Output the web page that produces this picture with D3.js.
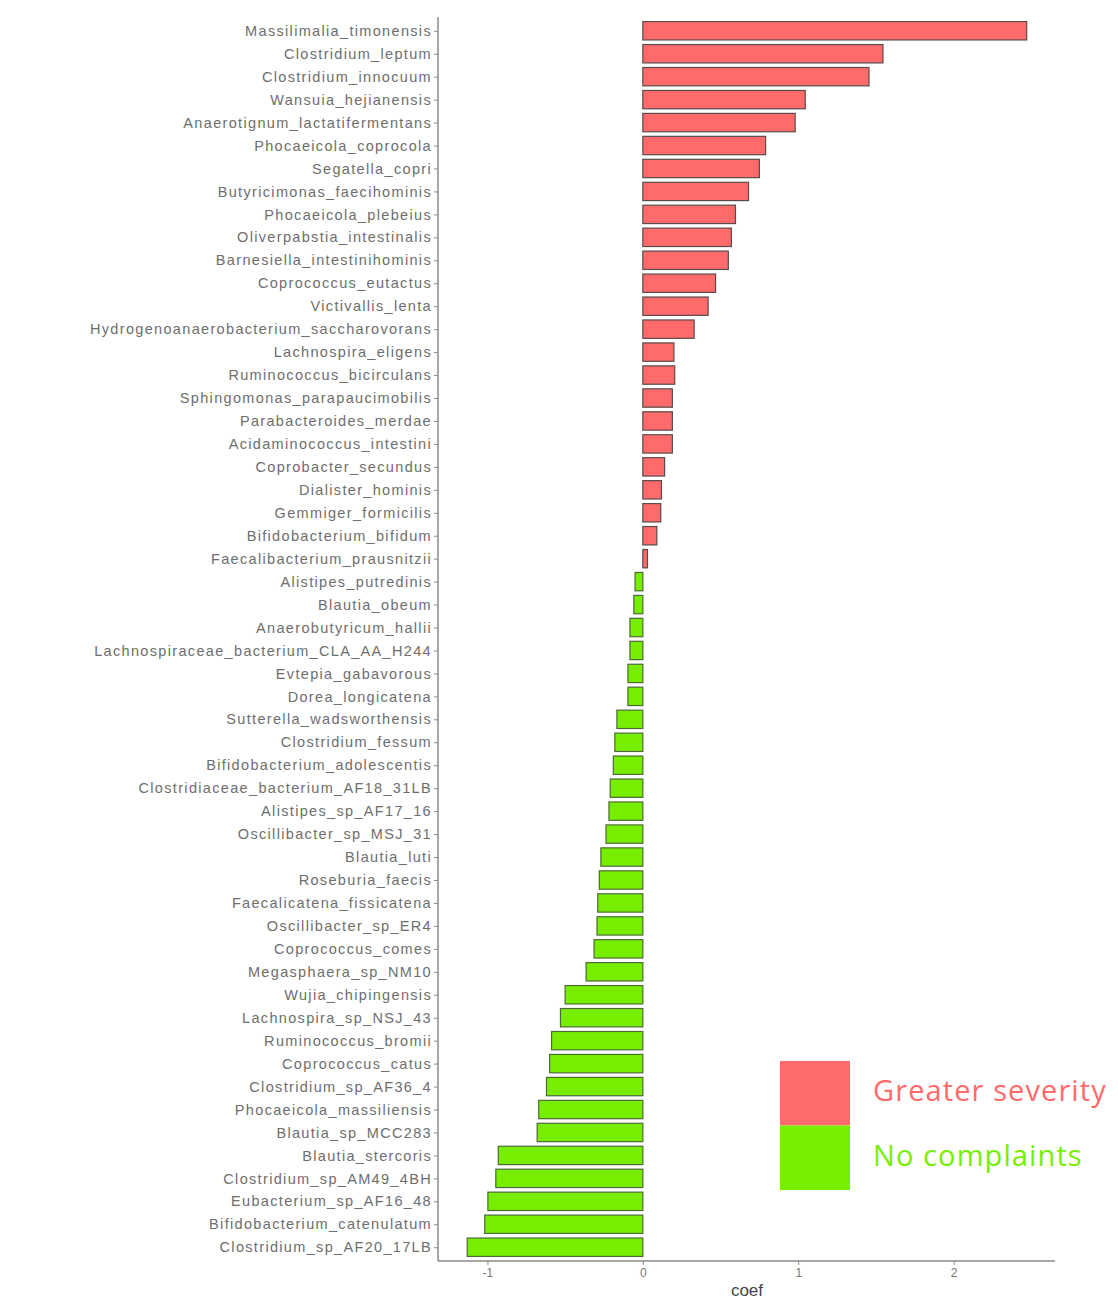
<!DOCTYPE html>
<html>
<head>
<meta charset="utf-8">
<script src="https://cdn.jsdelivr.net/npm/d3@7"></script>
<style>
  body { margin: 0; background: #fff; }
  svg { display: block; }
</style>
</head>
<body>
<div id="chart"></div>
<script>
// species names, top to bottom
const species = [
  "Massilimalia_timonensis", "Clostridium_leptum", "Clostridium_innocuum",
  "Wansuia_hejianensis", "Anaerotignum_lactatifermentans", "Phocaeicola_coprocola",
  "Segatella_copri", "Butyricimonas_faecihominis", "Phocaeicola_plebeius",
  "Oliverpabstia_intestinalis", "Barnesiella_intestinihominis", "Coprococcus_eutactus",
  "Victivallis_lenta", "Hydrogenoanaerobacterium_saccharovorans", "Lachnospira_eligens",
  "Ruminococcus_bicirculans", "Sphingomonas_parapaucimobilis", "Parabacteroides_merdae",
  "Acidaminococcus_intestini", "Coprobacter_secundus", "Dialister_hominis",
  "Gemmiger_formicilis", "Bifidobacterium_bifidum", "Faecalibacterium_prausnitzii",
  "Alistipes_putredinis", "Blautia_obeum", "Anaerobutyricum_hallii",
  "Lachnospiraceae_bacterium_CLA_AA_H244", "Evtepia_gabavorous", "Dorea_longicatena",
  "Sutterella_wadsworthensis", "Clostridium_fessum", "Bifidobacterium_adolescentis",
  "Clostridiaceae_bacterium_AF18_31LB", "Alistipes_sp_AF17_16", "Oscillibacter_sp_MSJ_31",
  "Blautia_luti", "Roseburia_faecis", "Faecalicatena_fissicatena",
  "Oscillibacter_sp_ER4", "Coprococcus_comes", "Megasphaera_sp_NM10",
  "Wujia_chipingensis", "Lachnospira_sp_NSJ_43", "Ruminococcus_bromii",
  "Coprococcus_catus", "Clostridium_sp_AF36_4", "Phocaeicola_massiliensis",
  "Blautia_sp_MCC283", "Blautia_stercoris", "Clostridium_sp_AM49_4BH",
  "Eubacterium_sp_AF16_48", "Bifidobacterium_catenulatum", "Clostridium_sp_AF20_17LB"
];

// coefficient per species (same order)
const coefs = [
  2.47, 1.545, 1.455, 1.045, 0.98, 0.79,
  0.75, 0.68, 0.596, 0.57, 0.55, 0.468,
  0.42, 0.33, 0.20, 0.205, 0.19, 0.19,
  0.19, 0.14, 0.12, 0.115, 0.09, 0.03,
  -0.05, -0.058, -0.083, -0.083, -0.096, -0.096,
  -0.167, -0.18, -0.19, -0.21, -0.218, -0.237,
  -0.27, -0.28, -0.29, -0.295, -0.314, -0.365,
  -0.50, -0.53, -0.587, -0.60, -0.62, -0.67,
  -0.68, -0.93, -0.946, -0.997, -1.017, -1.13
];

const xTicks = [-1, 0, 1, 2];
const groups = ["Greater severity", "No complaints"];
const groupColors = ["#ff6b6b", "#77ee00"];

const data = species.map((s, i) => ({ name: s, coef: coefs[i] }));

const width = 1118, height = 1304;
const plotLeft = 438, plotRight = 1055, plotTop = 17, plotBottom = 1261;

const svg = d3.select("#chart").append("svg")
    .attr("width", width)
    .attr("height", height);

const x = d3.scaleLinear()
    .domain([-1.318, 2.652])
    .range([plotLeft, plotRight]);

const y = d3.scalePoint()
    .domain(species)
    .range([plotTop, plotBottom])
    .padding(0.6);

const barH = y.step() * 0.8;

// bars
svg.append("g").selectAll("rect")
    .data(data)
    .join("rect")
    .attr("x", d => x(Math.min(0, d.coef)))
    .attr("width", d => Math.abs(x(d.coef) - x(0)))
    .attr("y", d => y(d.name) - barH / 2)
    .attr("height", barH)
    .attr("fill", d => d.coef >= 0 ? groupColors[0] : groupColors[1])
    .attr("stroke", d => d.coef >= 0 ? "#5a4a4a" : "#4e6a36")
    .attr("stroke-width", 1.2);

// y axis
const yAxis = svg.append("g")
    .attr("transform", `translate(${plotLeft},0)`)
    .call(d3.axisLeft(y).tickSize(4).tickPadding(2));
yAxis.select(".domain").attr("stroke", "#8a8a8a").attr("stroke-width", 1.5)
    .attr("d", `M0,${plotTop}V${plotBottom}`);
yAxis.selectAll(".tick line").attr("stroke", "#8a8a8a");
yAxis.selectAll(".tick text")
    .attr("fill", "#6e6e6e")
    .style("font-family", "'Liberation Sans', Arial, sans-serif")
    .style("font-size", "14.5px")
    .style("letter-spacing", "1.33px");

// x axis
const xAxis = svg.append("g")
    .attr("transform", `translate(0,${plotBottom})`)
    .call(d3.axisBottom(x).tickValues(xTicks).tickSize(4).tickPadding(3)
      .tickFormat(d => String(d)));
xAxis.select(".domain").attr("stroke", "#8a8a8a").attr("stroke-width", 1.5)
    .attr("d", `M${plotLeft},0H${plotRight}`);
xAxis.selectAll(".tick line").attr("stroke", "#8a8a8a");
xAxis.selectAll(".tick text")
    .attr("fill", "#777")
    .style("font-family", "'Liberation Sans', Arial, sans-serif")
    .style("font-size", "12px");

svg.append("text")
    .attr("x", x(0.67))
    .attr("y", 1296)
    .attr("text-anchor", "middle")
    .attr("fill", "#444")
    .style("font-family", "'Liberation Sans', Arial, sans-serif")
    .style("font-size", "17px")
    .text("coef");

// legend
const legend = svg.append("g").attr("transform", "translate(780,1061)");
groups.forEach((g, i) => {
  legend.append("rect")
    .attr("x", 0)
    .attr("y", i * 64.5)
    .attr("width", 70)
    .attr("height", 64.5)
    .attr("fill", groupColors[i]);
  legend.append("text")
    .attr("x", 93)
    .attr("y", i * 64.5 + 40)
    .attr("fill", groupColors[i])
    .style("font-family", "'Open Sans', sans-serif")
    .style("font-size", "29px")
    .style("letter-spacing", "1.1px")
    .text(g);
});
</script>
</body>
</html>
